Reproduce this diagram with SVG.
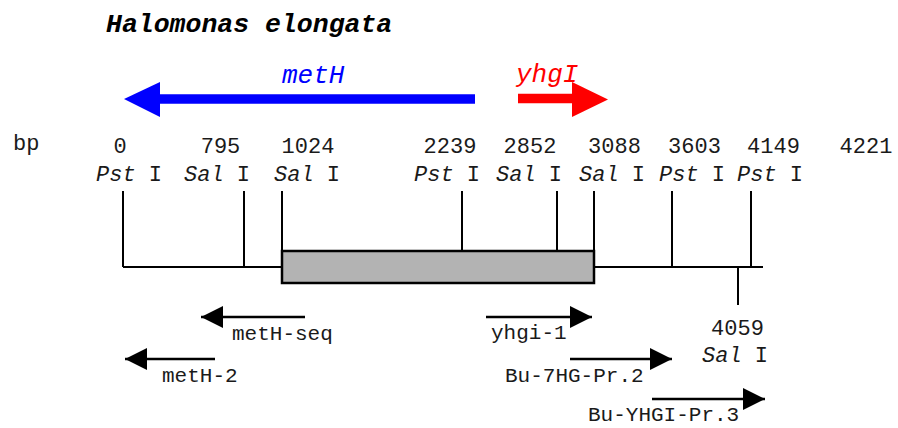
<svg xmlns="http://www.w3.org/2000/svg" width="898" height="428" viewBox="0 0 898 428">
<style>
text{font-family:"Liberation Mono","Courier New",monospace;font-size:22px;fill:#1a1a1a}
.num{text-anchor:middle}
.it{font-style:italic}
.plab{font-size:21px}
.title{font-size:26.5px;font-weight:bold;font-style:italic;fill:#000}
.gene{font-size:26px;font-style:italic}
.ln{stroke:#000;stroke-width:2;fill:none}
.pr{stroke:#000;stroke-width:2.5;fill:none}
</style>
<defs>
<marker id="ah" markerUnits="userSpaceOnUse" markerWidth="22" markerHeight="22" viewBox="0 0 20 20" refX="20" refY="10" orient="auto">
<path d="M0,0 L20,10 L0,20 Z" fill="#000"/>
</marker>
</defs>
<g id="title"><text class="title" x="106" y="32">Halomonas elongata</text></g>
<g id="metH">
<path d="M475,99 L160,99" stroke="#0000ff" stroke-width="9.5" fill="none"/>
<path d="M124,99 L160,82 L160,117 Z" fill="#0000ff"/>
<text class="gene" x="282" y="83" style="fill:#0000ff">metH</text>
</g>
<g id="yhgI">
<path d="M518,98.5 L572,98.5" stroke="#ff0000" stroke-width="9.5" fill="none"/>
<path d="M608,99.5 L572,82 L572,117 Z" fill="#ff0000"/>
<text class="gene" x="516" y="82" style="fill:#ff0000">yhgI</text>
</g>
<g id="scale">
<text x="13" y="150">bp</text>
<text class="num" x="120" y="153">0</text>
<text class="num" x="220.5" y="153">795</text>
<text class="num" x="308" y="153">1024</text>
<text class="num" x="450" y="153">2239</text>
<text class="num" x="530" y="153">2852</text>
<text class="num" x="614.5" y="153">3088</text>
<text class="num" x="694.5" y="153">3603</text>
<text class="num" x="773.5" y="153">4149</text>
<text class="num" x="866" y="153">4221</text>
<text x="96" y="181"><tspan class="it">Pst</tspan> I</text>
<text x="184" y="181"><tspan class="it">Sal</tspan> I</text>
<text x="274" y="181"><tspan class="it">Sal</tspan> I</text>
<text x="414" y="181"><tspan class="it">Pst</tspan> I</text>
<text x="496" y="181"><tspan class="it">Sal</tspan> I</text>
<text x="579" y="181"><tspan class="it">Sal</tspan> I</text>
<text x="659" y="181"><tspan class="it">Pst</tspan> I</text>
<text x="737" y="181"><tspan class="it">Pst</tspan> I</text>
<text class="num" x="737.5" y="335">4059</text>
<text x="702" y="362"><tspan class="it">Sal</tspan> I</text>
</g>
<g id="map">
<path class="ln" d="M123,267 L282,267 M594,267 L763,267"/>
<path class="ln" d="M123,191 L123,267 M244,191 L244,267 M282,191 L282,251 M462,191 L462,251 M557,191 L557,251 M594,191 L594,251 M672,191 L672,267 M751,191 L751,267 M738,267 L738,305"/>
<rect x="282" y="251" width="312" height="32" fill="#b3b3b3" stroke="#000" stroke-width="2.5"/>
</g>
<g id="primers">
<path class="pr" d="M305,317 L201,317" marker-end="url(#ah)"/>
<text class="plab" x="232" y="340">metH-seq</text>
<path class="pr" d="M215,359 L125,359" marker-end="url(#ah)"/>
<text class="plab" x="162" y="382">metH-2</text>
<path class="pr" d="M486,317 L592,317" marker-end="url(#ah)"/>
<text class="plab" x="491" y="339">yhgi-1</text>
<path class="pr" d="M570,359 L672,359" marker-end="url(#ah)"/>
<text class="plab" x="505" y="382">Bu-7HG-Pr.2</text>
<path class="pr" d="M652,399 L765,399" marker-end="url(#ah)"/>
<text class="plab" x="588" y="421">Bu-YHGI-Pr.3</text>
</g>
</svg>
